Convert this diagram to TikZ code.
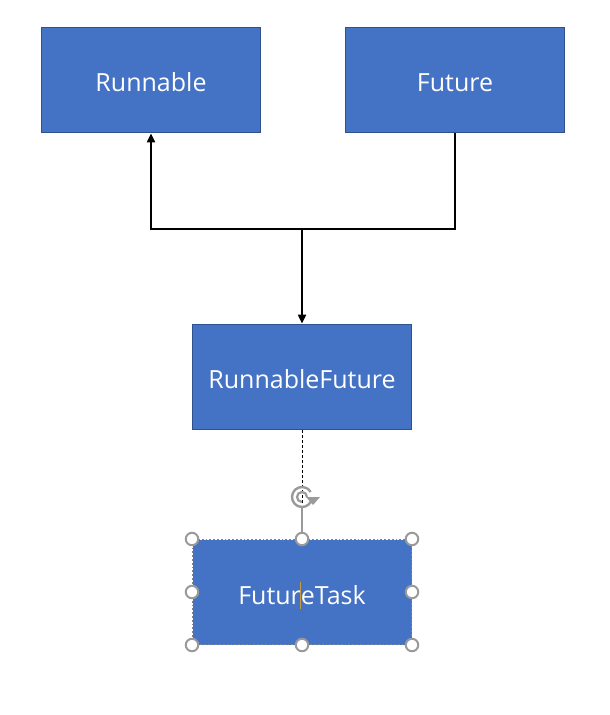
\documentclass[tikz,border=0pt]{standalone}
\usepackage{fontspec}
\setmainfont{Open Sans}
\usetikzlibrary{arrows.meta}
\definecolor{boxfill}{HTML}{4472C4}
\definecolor{boxline}{HTML}{2F528F}
\definecolor{handlegray}{HTML}{9A9A9A}
\definecolor{cursorcol}{HTML}{C89B3C}
\begin{document}
\begin{tikzpicture}[x=1pt,y=-1pt,
  cls/.style={draw=boxline,line width=1.8pt,fill=boxfill,text=white,
    minimum width=219pt,minimum height=105pt,inner sep=0pt,
    font=\fontsize{25}{29}\selectfont},
  lbl/.style={text height=22pt,text depth=0pt},
  conn/.style={line width=2pt,black},
  tip/.style={-{Triangle[length=9pt,width=8pt]}},
  handle/.style={circle,draw=handlegray,line width=2pt,fill=white,minimum size=12.5pt,inner sep=0pt}
]
\useasboundingbox (0,0) rectangle (610,715);
\node[cls,lbl] (run) at (151,80) {Runnable};
\node[cls,lbl] (fut) at (455,80) {Future};
\node[cls,lbl] (rf) at (302,377) {RunnableFuture};
\node[cls,draw=handlegray!70!boxline,dotted,line width=1pt] (ft) at (302,592) {\phantom{FutureTask}};
\node[text=white,font=\fontsize{25}{29}\selectfont,inner sep=0pt] (ftlabel) at ([yshift=-3pt]ft.center) {Futur\rlap{\hspace{-0.6pt}\textcolor{cursorcol}{\rule[-4pt]{0.8pt}{27pt}}}eTask};
\coordinate (j) at (302,229);
\draw[conn] (fut.south) |- (j);
\draw[conn,tip] (j) -| (run.south);
\draw[conn,tip] (j) -- (rf.north);
% rotation handle
\coordinate (rot) at (302,497);
\draw[black,line width=1pt,dash pattern=on 3pt off 2pt] (rf.south) -- (302,503);
\draw[handlegray,line width=1.4pt] (302,508) -- (ft.north);
\draw[handlegray,line width=2.4pt] (rot) ++(25:10) arc[start angle=25,end angle=330,radius=10];
\draw[handlegray,line width=2.2pt] (rot) ++(90:5) arc[start angle=90,end angle=360,radius=5];
\fill[handlegray] (306,497) -- (320,497) -- (313,505) -- cycle;
\foreach \p [count=\i] in {north west,north,north east,west,east,south west,south,south east}
  \node[handle] (h\i) at (ft.\p) {};
\end{tikzpicture}
\end{document}
